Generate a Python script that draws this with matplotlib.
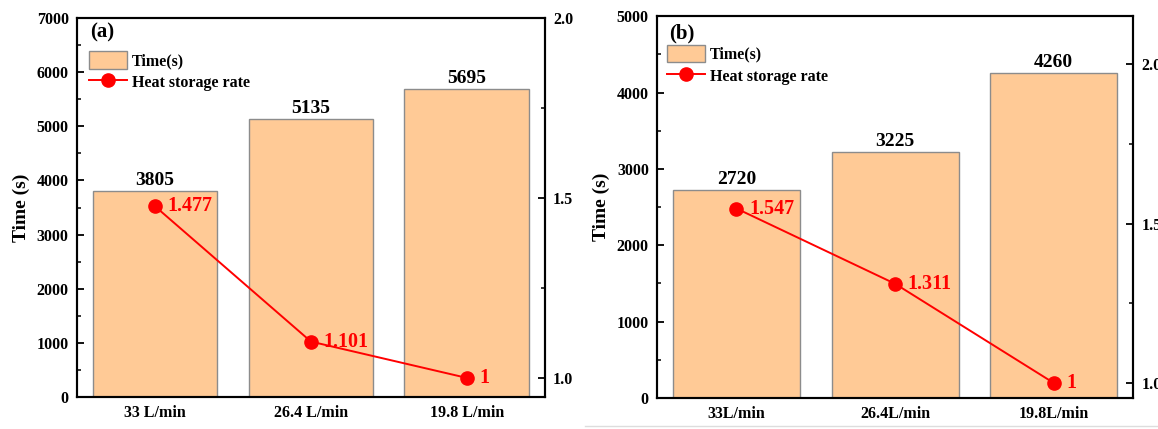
import matplotlib
matplotlib.use("Agg")
import matplotlib.pyplot as plt
from matplotlib.ticker import MultipleLocator
from matplotlib.lines import Line2D
from matplotlib.patches import Patch

plt.rcParams['font.family'] = ['Liberation Serif', 'DejaVu Serif']
plt.rcParams['font.weight'] = 'bold'

# ---- data ----
cats_a = ["33 L/min", "26.4 L/min", "19.8 L/min"]
time_a = [3805, 5135, 5695]
rate_a = [1.477, 1.101, 1]
rate_a_labels = ["1.477", "1.101", "1"]

cats_b = ["33L/min", "26.4L/min", "19.8L/min"]
time_b = [2720, 3225, 4260]
rate_b = [1.547, 1.311, 1]
rate_b_labels = ["1.547", "1.311", "1"]

BAR_FC = "#FFCA96"
BAR_EC = "#8C8C8C"
RED = "#FF0000"

fig = plt.figure(figsize=(11.58, 4.29), dpi=100)


def panel(rect, cats, times, rates, rate_labels, ymax, r_lim, tag, leg_anchor, tag_pos):
    ax = fig.add_axes(rect)
    x = list(range(len(cats)))
    ax.bar(x, times, width=0.8, color=BAR_FC, edgecolor=BAR_EC, linewidth=1.0, zorder=2)
    for xi, t in zip(x, times):
        ax.annotate(str(t), (xi, t), xytext=(0, 1.5), textcoords="offset points",
                    ha="center", va="bottom", fontsize=14, fontweight="bold", color="black")
    ax.set_xlim(-0.5, len(cats) - 0.5)
    ax.set_ylim(0, ymax)
    ax.set_xticks(x)
    ax.set_xticklabels(cats, fontsize=11.5, fontweight="bold")
    ax.yaxis.set_major_locator(MultipleLocator(1000))
    ax.yaxis.set_minor_locator(MultipleLocator(500))
    ax.tick_params(axis="both", which="major", direction="in", length=5, width=1.3,
                   labelsize=11.5, pad=6)
    ax.tick_params(axis="y", which="minor", direction="in", length=3, width=1.1)
    ax.tick_params(axis="x", which="minor", bottom=False)
    for lab in ax.get_yticklabels():
        lab.set_fontweight("bold")
    ax.set_ylabel("Time (s)", fontsize=14, fontweight="bold", labelpad=5)
    for s in ax.spines.values():
        s.set_linewidth(1.5)

    ax2 = ax.twinx()
    ax2.plot(x, rates, color=RED, lw=1.4, marker="o", ms=9.5, zorder=3)
    for xi, r, lab in zip(x, rates, rate_labels):
        ax2.annotate(lab, (xi, r), xytext=(9, 0), textcoords="offset points",
                     ha="left", va="center", fontsize=14.5, fontweight="bold", color=RED)
    ax2.set_ylim(*r_lim)
    ax2.yaxis.set_major_locator(MultipleLocator(0.5))
    ax2.yaxis.set_minor_locator(MultipleLocator(0.25))
    ax2.tick_params(axis="y", which="major", direction="in", length=5, width=1.3,
                    labelsize=11.5, pad=6)
    ax2.tick_params(axis="y", which="minor", direction="in", length=3, width=1.1)
    for lab in ax2.get_yticklabels():
        lab.set_fontweight("bold")
    for s in ax2.spines.values():
        s.set_linewidth(1.5)

    handles = [Patch(facecolor=BAR_FC, edgecolor=BAR_EC, linewidth=1.0),
               Line2D([], [], color=RED, lw=1.4, marker="o", ms=9.5)]
    ax2.legend(handles, ["Time(s)", "Heat storage rate"], loc="upper left",
               bbox_to_anchor=leg_anchor, frameon=False, borderpad=0,
               borderaxespad=0, handlelength=2.4, handleheight=1.3,
               handletextpad=0.3, labelspacing=0.25,
               prop={"size": 11.5, "weight": "bold", "family": "Liberation Serif"})
    ax2.text(tag_pos[0], tag_pos[1], tag, transform=ax2.transAxes, fontsize=15,
             fontweight="bold", ha="left", va="center")
    return ax, ax2


panel([0.0665, 0.0746, 0.4040, 0.8834], cats_a, time_a, rate_a, rate_a_labels,
      7000, (0.947, 2.0), "(a)", (0.025, 0.912), (0.027, 0.961))
panel([0.5675, 0.0723, 0.4110, 0.8900], cats_b, time_b, rate_b, rate_b_labels,
      5000, (0.953, 2.15), "(b)", (0.02, 0.925), (0.025, 0.955))

fig.add_artist(Line2D([0.505, 1.0], [0.007, 0.007], color="#DDDDDD", lw=1.0,
                      transform=fig.transFigure))

fig.savefig("out.png", dpi=100)
